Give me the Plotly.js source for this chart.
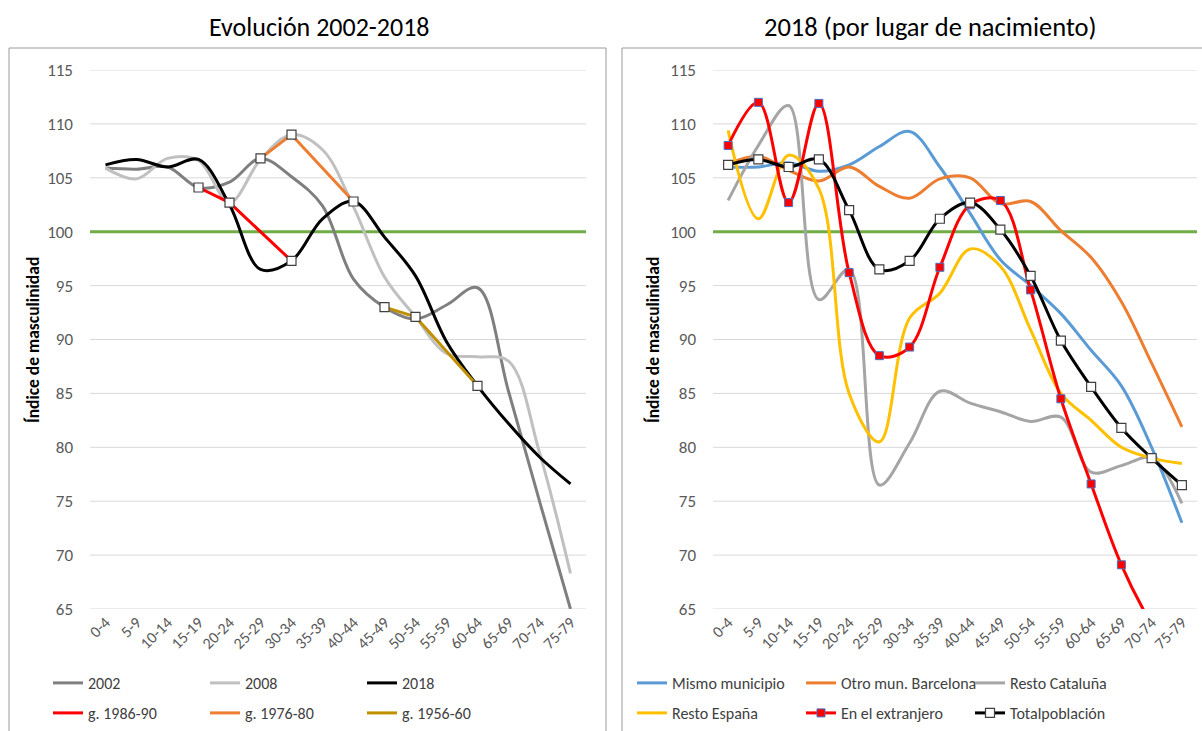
<!DOCTYPE html>
<html><head><meta charset="utf-8">
<script src="https://cdn.plot.ly/plotly-3.0.1.min.js"></script>
<style>body{margin:0;background:#fff;} #chart{width:1202px;height:731px;}</style>
</head><body><div id="chart"></div>
<script>
// ---------- data ----------
const ages = ['0-4','5-9','10-14','15-19','20-24','25-29','30-34','35-39','40-44','45-49','50-54','55-59','60-64','65-69','70-74','75-79'];
const yTicks = [65,70,75,80,85,90,95,100,105,110,115];

// Left panel: Evolución 2002-2018
const y2002 = [105.9,105.8,106.0,104.1,104.6,106.8,105.1,102.4,95.6,93.0,91.9,93.2,94.8,85.2,75.0,65.0];
const y2008 = [105.9,104.9,106.8,106.6,102.7,106.7,109.0,107.6,102.3,95.8,92.1,88.7,88.4,88.0,79.5,68.3];
const y2018 = [106.2,106.7,106.0,106.7,102.5,96.5,97.3,101.2,102.8,99.5,95.9,89.8,85.7,82.2,79.1,76.6];
const g1986x = ['15-19','20-24','30-34'];
const g1986y = [104.1,102.7,97.3];
const g1976x = ['25-29','30-34','40-44'];
const g1976y = [106.8,109.0,102.8];
const g1956x = ['45-49','50-54','60-64'];
const g1956y = [93.0,92.1,85.7];

// Right panel: 2018 por lugar de nacimiento
const mismoMunicipio = [106.0,106.0,106.4,105.6,106.2,107.9,109.3,106.0,101.7,97.4,95.0,92.4,89.0,85.7,80.0,73.0];
const otroMunBarcelona = [106.3,107.0,105.7,104.7,106.0,104.2,103.1,104.9,105.0,102.6,102.8,100.1,97.6,93.5,87.8,81.9];
const restoCataluna = [102.9,108.0,111.7,93.7,96.5,76.5,80.4,85.2,84.1,83.3,82.4,82.8,77.7,78.3,79.0,74.8];
const restoEspana = [109.4,101.2,107.1,104.0,85.0,80.5,92.0,94.3,98.4,96.8,90.9,85.0,82.5,80.0,79.0,78.5];
const extranjero = [108.0,112.0,102.7,111.9,96.2,88.5,89.3,96.7,102.5,102.9,94.6,84.5,76.6,69.1,63.6,59.5];
const totalPoblacion = [106.2,106.7,106.0,106.7,102.0,96.5,97.3,101.2,102.7,100.2,95.9,89.9,85.6,81.8,79.0,76.5];
const referencia = 100;

// ---------- layout helpers ----------
const W = 1202, H = 731;
const px = v => v / W;
const py = v => 1 - v / H;
const FONT = 'Carlito, Lato, "Open Sans", sans-serif';

function line(x, y, name, color, ax, legend, extra) {
  return Object.assign({
    type: 'scatter', mode: 'lines', x: x, y: y, name: name,
    xaxis: ax[0], yaxis: ax[1], legend: legend,
    line: {color: color, width: 3, shape: 'spline', smoothing: 1},
    hoverinfo: 'skip'
  }, extra || {});
}
const L = ['x','y'], R = ['x2','y2'];
const whiteSq = {symbol: 'square', size: 9, color: '#ffffff', line: {color: '#404040', width: 1.2}};
const redSq = {symbol: 'square', size: 8, color: '#ff0000', line: {color: '#4472C4', width: 1}};

const traces = [
  line(ages, y2002, '2002', '#7f7f7f', L, 'legend'),
  line(ages, y2008, '2008', '#c0c0c0', L, 'legend'),
  line(ages, y2018, '2018', '#000000', L, 'legend'),
  line(g1986x, g1986y, 'g. 1986-90', '#ff0000', L, 'legend2', {line:{color:'#ff0000',width:3,shape:'linear'}}),
  line(g1976x, g1976y, 'g. 1976-80', '#ED7D31', L, 'legend2', {line:{color:'#ED7D31',width:3,shape:'linear'}}),
  line(g1956x, g1956y, 'g. 1956-60', '#BF9000', L, 'legend2', {line:{color:'#BF9000',width:3,shape:'linear'}}),
  {type:'scatter', mode:'markers', x:g1986x.concat(g1976x, g1956x), y:g1986y.concat(g1976y, g1956y),
   xaxis:'x', yaxis:'y', marker: whiteSq, showlegend:false, hoverinfo:'skip'},

  line(ages, mismoMunicipio, 'Mismo municipio', '#5B9BD5', R, 'legend3'),
  line(ages, otroMunBarcelona, 'Otro mun. Barcelona', '#ED7D31', R, 'legend3'),
  line(ages, restoCataluna, 'Resto Cataluña', '#A5A5A5', R, 'legend3'),
  line(ages, restoEspana, 'Resto España', '#FFC000', R, 'legend4'),
  line(ages, extranjero, 'En el extranjero', '#ff0000', R, 'legend4', {mode:'lines+markers', marker: redSq}),
  line(ages, totalPoblacion, 'Totalpoblación', '#000000', R, 'legend4', {mode:'lines+markers', marker: whiteSq})
];

const yAxisBase = {
  range: [65, 115], tickvals: yTicks, showgrid: false,
  zeroline: false, showline: false, ticks: '', ticklabelstandoff: 16,
  tickfont: {family: FONT, size: 17, color: '#595959'}, fixedrange: true,
  domain: [py(609), py(70)]
};
const xAxisBase = {
  type: 'category', categoryarray: ages, categoryorder: 'array', range: [-0.5, 15.5],
  showgrid: false, zeroline: false, showline: false, ticks: '', tickangle: -45,
  tickfont: {family: FONT, size: 16, color: '#595959'}, fixedrange: true
};

function legendAt(x, y, w) {
  return {orientation: 'h', x: px(x), y: py(y), xanchor: 'left', yanchor: 'middle',
    entrywidth: w, entrywidthmode: 'pixels', bgcolor: 'rgba(0,0,0,0)', itemwidth: 30,
    font: {family: FONT, size: 16, color: '#404040'}, tracegroupgap: 0, itemclick: false};
}

// gridlines (drawn as shapes so the green reference line can sit above them and below the data)
const shapes = [
  {type:'rect', xref:'paper', yref:'paper', x0:px(9), x1:px(606), y0:py(745), y1:py(48), line:{color:'#9a9a9a', width:1}, layer:'below'},
  {type:'rect', xref:'paper', yref:'paper', x0:px(622), x1:px(1215), y0:py(745), y1:py(48), line:{color:'#9a9a9a', width:1}, layer:'below'}
];
[['x','y'],['x2','y2']].forEach(function(a) {
  yTicks.forEach(function(t) {
    shapes.push({type:'line', xref:a[0]+' domain', yref:a[1], x0:0, x1:1, y0:t, y1:t,
      line:{color:'#D9D9D9', width:1}, layer:'below'});
  });
  shapes.push({type:'line', xref:a[0]+' domain', yref:a[1], x0:0, x1:1, y0:referencia, y1:referencia,
    line:{color:'#70AD47', width:3}, layer:'below'});
});

const layout = {
  width: W, height: H, margin: {l: 0, r: 0, t: 0, b: 0},
  paper_bgcolor: '#ffffff', plot_bgcolor: 'rgba(0,0,0,0)',
  showlegend: true,
  xaxis: Object.assign({}, xAxisBase, {domain: [px(90), px(586)], anchor: 'y'}),
  yaxis: Object.assign({}, yAxisBase, {anchor: 'x'}),
  xaxis2: Object.assign({}, xAxisBase, {domain: [px(713), px(1197)], anchor: 'y2'}),
  yaxis2: Object.assign({}, yAxisBase, {anchor: 'x2'}),
  legend: legendAt(48, 683, 112),
  legend2: legendAt(48, 713, 112),
  legend3: legendAt(632, 683, 124),
  legend4: legendAt(632, 713, 124),
  shapes: shapes,
  annotations: [
    {text:'Evolución 2002-2018', xref:'paper', yref:'paper', x:px(319), y:py(27), showarrow:false,
     font:{family:FONT, size:26, color:'#000000'}, xanchor:'center', yanchor:'middle'},
    {text:'2018 (por lugar de nacimiento)', xref:'paper', yref:'paper', x:px(930), y:py(27), showarrow:false,
     font:{family:FONT, size:26.5, color:'#000000'}, xanchor:'center', yanchor:'middle'},
    {text:'<b>Índice de masculinidad</b>', xref:'paper', yref:'paper', x:px(33), y:py(340), showarrow:false,
     textangle:-90, font:{family:FONT, size:17.5, color:'#000000'}, xanchor:'center', yanchor:'middle'},
    {text:'<b>Índice de masculinidad</b>', xref:'paper', yref:'paper', x:px(653), y:py(340), showarrow:false,
     textangle:-90, font:{family:FONT, size:17.5, color:'#000000'}, xanchor:'center', yanchor:'middle'}
  ]
};

Plotly.newPlot('chart', traces, layout, {displayModeBar: false, staticPlot: true});
</script>
</body></html>
